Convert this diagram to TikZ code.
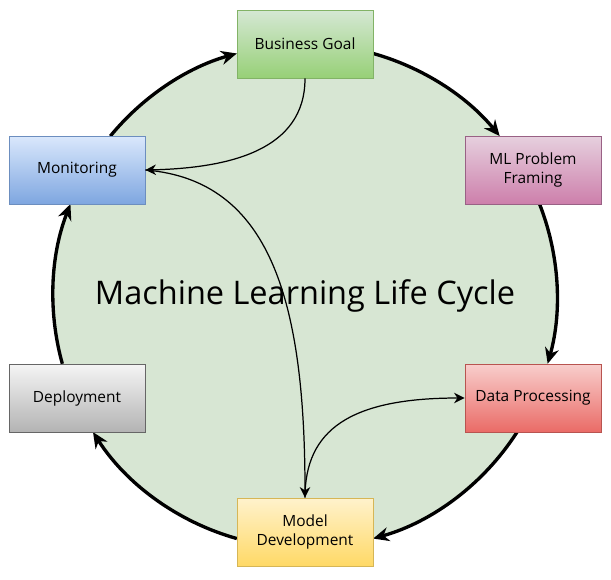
\documentclass[tikz,border=0pt]{standalone}
\usepackage{fontspec}
\setmainfont{Open Sans}
\usetikzlibrary{arrows.meta}
\definecolor{cfill}{HTML}{D7E6D3}
\definecolor{gT}{HTML}{D5E8D4}\definecolor{gB}{HTML}{97D077}\definecolor{gD}{HTML}{82B366}
\definecolor{pT}{HTML}{E6D0DE}\definecolor{pB}{HTML}{CD7FAB}\definecolor{pD}{HTML}{996185}
\definecolor{rT}{HTML}{F8CECC}\definecolor{rB}{HTML}{EA6B66}\definecolor{rD}{HTML}{B85450}
\definecolor{yT}{HTML}{FFF2CC}\definecolor{yB}{HTML}{FFD966}\definecolor{yD}{HTML}{D6B656}
\definecolor{kT}{HTML}{F5F5F5}\definecolor{kB}{HTML}{B3B3B3}\definecolor{kD}{HTML}{666666}
\definecolor{bT}{HTML}{DAE8FC}\definecolor{bB}{HTML}{7EA6E0}\definecolor{bD}{HTML}{6C8EBF}
\begin{document}
\begin{tikzpicture}[x=0.02cm,y=-0.02cm,
 box/.style={draw=#1D,line width=0.5pt,top color=#1T,bottom color=#1B,minimum width=2.72cm,minimum height=1.36cm,align=center,inner sep=1pt,font=\fontsize{8.8}{11}\selectfont},
 cyc/.style={line width=1.9pt,-{Stealth[length=9pt,width=8pt]}},
 inner/.style={line width=0.7pt}]
\useasboundingbox (0,0) rectangle (611,579);
\fill[white] (0,0) rectangle (611,579);
\coordinate (c) at (305,296);
\draw[fill=cfill,draw=none] (c) circle[radius=5.04cm];
\draw[cyc] ([shift={(74.3:5.04cm)}]c) arc[start angle=74.3,end angle=39.4,radius=5.04cm];
\draw[cyc] ([shift={(21.4:5.04cm)}]c) arc[start angle=21.4,end angle=-15.6,radius=5.04cm];
\draw[cyc] ([shift={(-32.7:5.04cm)}]c) arc[start angle=-32.7,end angle=-74.3,radius=5.04cm];
\draw[cyc] ([shift={(-105.7:5.04cm)}]c) arc[start angle=-105.7,end angle=-147.3,radius=5.04cm];
\draw[cyc] ([shift={(195.6:5.04cm)}]c) arc[start angle=195.6,end angle=158.6,radius=5.04cm];
\draw[cyc] ([shift={(140.6:5.04cm)}]c) arc[start angle=140.6,end angle=105.7,radius=5.04cm];
\node[box=g] (bg) at (305,44) {Business Goal};
\node[box=p] (ml) at (533,170) {ML Problem\\Framing};
\node[box=r] (dp) at (533,398) {Data Processing};
\node[box=y] (md) at (305,532) {Model\\Development};
\node[box=k] (de) at (77,398) {Deployment};
\node[box=b] (mo) at (77,170) {Monitoring};
\node[font=\fontsize{18.5}{22}\selectfont] (t) at (305,296) {Machine Learning Life Cycle};
\draw[inner,-{Stealth[length=6pt,width=6pt]}] (bg.south) .. controls (305,150) and (230,168) .. (mo.east);
\draw[inner,-{Stealth[length=6pt,width=6pt]}] (mo.east) .. controls (270,180) and (305,300) .. (md.north);
\draw[inner,-{Stealth[length=6pt,width=6pt]}] (md.north) .. controls (305,430) and (350,398) .. (dp.west);
\end{tikzpicture}
\end{document}
